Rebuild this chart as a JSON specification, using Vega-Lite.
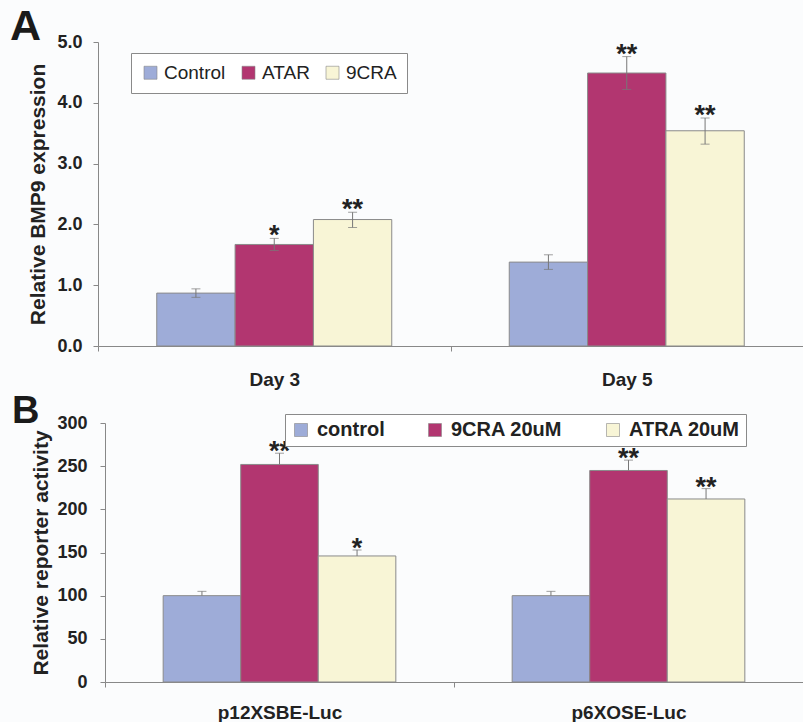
{
  "$schema": "https://vega.github.io/schema/vega-lite/v6.json",
  "background": "#fbfcfd",
  "padding": {"left": 10, "top": 6, "right": 0, "bottom": 0},
  "config": {
    "view": {"stroke": null},
    "font": "Liberation Sans",
    "axis": {"domainColor": "#888888", "tickColor": "#888888", "labelColor": "#222222", "titleColor": "#222222", "grid": false, "labelFont": "Liberation Sans", "titleFont": "Liberation Sans"},
    "legend": {"labelFont": "Liberation Sans", "labelColor": "#222222"},
    "title": {"font": "Liberation Sans", "color": "#1a1a1a"}
  },
  "spacing": 3,
  "datasets": {
    "a": [
      {"day": "Day 3", "grp": "Control", "val": 0.87, "lo": 0.80, "hi": 0.94, "sig": ""},
      {"day": "Day 3", "grp": "ATAR", "val": 1.67, "lo": 1.57, "hi": 1.77, "sig": "*"},
      {"day": "Day 3", "grp": "9CRA", "val": 2.08, "lo": 1.95, "hi": 2.20, "sig": "**"},
      {"day": "Day 5", "grp": "Control", "val": 1.38, "lo": 1.26, "hi": 1.50, "sig": ""},
      {"day": "Day 5", "grp": "ATAR", "val": 4.49, "lo": 4.22, "hi": 4.76, "sig": "**"},
      {"day": "Day 5", "grp": "9CRA", "val": 3.54, "lo": 3.32, "hi": 3.75, "sig": "**"}
    ],
    "b": [
      {"rep": "p12XSBE-Luc", "grp": "control", "val": 100, "hi": 105, "sig": ""},
      {"rep": "p12XSBE-Luc", "grp": "9CRA 20uM", "val": 252, "hi": 265, "sig": "**"},
      {"rep": "p12XSBE-Luc", "grp": "ATRA 20uM", "val": 146, "hi": 153, "sig": "*"},
      {"rep": "p6XOSE-Luc", "grp": "control", "val": 100, "hi": 105, "sig": ""},
      {"rep": "p6XOSE-Luc", "grp": "9CRA 20uM", "val": 245, "hi": 257, "sig": "**"},
      {"rep": "p6XOSE-Luc", "grp": "ATRA 20uM", "val": 212, "hi": 224, "sig": "**"}
    ]
  },
  "resolve": {
    "scale": {"color": "independent", "xOffset": "independent", "x": "independent", "y": "independent"},
    "legend": {"color": "independent"}
  },
  "vconcat": [
    {
      "width": 705,
      "height": 304,
      "title": {"text": "A", "anchor": "start", "frame": "group", "fontSize": 43, "fontWeight": "bold", "dx": -88, "dy": 50, "offset": 0, "baseline": "alphabetic"},
      "data": {"name": "a"},
      "encoding": {
        "x": {"field": "day", "type": "nominal", "scale": {"paddingInner": 0, "paddingOuter": 0},
              "axis": {"title": null, "labelAngle": 0, "labelFontSize": 19, "labelFontWeight": "bold", "labelPadding": 19, "tickBand": "extent", "tickSize": 5}},
        "xOffset": {"field": "grp", "type": "nominal", "sort": ["Control", "ATAR", "9CRA"], "scale": {"paddingOuter": 0.75, "paddingInner": 0}}
      },
      "layer": [
        {
          "mark": {"type": "bar", "stroke": "#8a8a8a", "strokeWidth": 1},
          "encoding": {
            "y": {"field": "val", "type": "quantitative", "scale": {"domain": [0, 5], "nice": false},
                  "axis": {"title": "Relative BMP9 expression", "titleFontSize": 21, "titleFontWeight": "bold", "titlePadding": 8, "labelFontSize": 18, "labelFontWeight": "bold", "values": [0, 1, 2, 3, 4, 5], "format": ".1f", "tickSize": 5, "labelPadding": 11}},
            "color": {"field": "grp", "type": "nominal", "sort": ["Control", "ATAR", "9CRA"],
                      "scale": {"domain": ["Control", "ATAR", "9CRA"], "range": ["#9eacd8", "#b23670", "#f8f5d6"]},
                      "legend": {"orient": "none", "legendX": 33, "legendY": 11, "direction": "horizontal", "columns": 3, "title": null, "labelFontSize": 19, "symbolType": "square", "symbolSize": 169, "symbolStrokeColor": "#888888", "symbolStrokeWidth": 0.6, "strokeColor": "#8a8a8a", "fillColor": "#ffffff", "padding": 10, "columnPadding": 13, "labelOffset": 4}}
          }
        },
        {
          "mark": {"type": "rule", "color": "#777777", "strokeWidth": 1},
          "encoding": {"y": {"field": "lo", "type": "quantitative", "title": "Relative BMP9 expression"}, "y2": {"field": "hi"}}
        },
        {
          "mark": {"type": "tick", "color": "#777777", "size": 9, "thickness": 1, "orient": "horizontal"},
          "encoding": {"y": {"field": "hi", "type": "quantitative", "title": "Relative BMP9 expression"}}
        },
        {
          "mark": {"type": "tick", "color": "#777777", "size": 9, "thickness": 1, "orient": "horizontal"},
          "encoding": {"y": {"field": "lo", "type": "quantitative", "title": "Relative BMP9 expression"}}
        },
        {
          "mark": {"type": "text", "fontSize": 27, "fontWeight": "bold", "baseline": "alphabetic", "dy": 6, "color": "#222222"},
          "encoding": {"y": {"field": "hi", "type": "quantitative", "title": "Relative BMP9 expression"}, "text": {"field": "sig"}}
        }
      ]
    },
    {
      "width": 705,
      "height": 259,
      "title": {"text": "B", "anchor": "start", "frame": "group", "fontSize": 38, "fontWeight": "bold", "dx": -86, "dy": 47, "offset": 0, "baseline": "alphabetic"},
      "data": {"name": "b"},
      "encoding": {
        "x": {"field": "rep", "type": "nominal", "scale": {"paddingInner": 0, "paddingOuter": 0, "range": [7, 705]},
              "axis": {"title": null, "labelAngle": 0, "labelFontSize": 19, "labelFontWeight": "bold", "labelPadding": 16, "tickBand": "extent", "tickSize": 5}},
        "xOffset": {"field": "grp", "type": "nominal", "sort": ["control", "9CRA 20uM", "ATRA 20uM"], "scale": {"paddingOuter": 0.75, "paddingInner": 0}}
      },
      "layer": [
        {
          "mark": {"type": "bar", "stroke": "#8a8a8a", "strokeWidth": 1},
          "encoding": {
            "y": {"field": "val", "type": "quantitative", "scale": {"domain": [0, 300], "nice": false},
                  "axis": {"title": "Relative reporter activity", "titleFontSize": 21, "titleFontWeight": "bold", "titlePadding": 5, "labelFontSize": 18, "labelFontWeight": "bold", "values": [0, 50, 100, 150, 200, 250, 300], "tickSize": 5, "labelPadding": 13, "offset": -7}},
            "color": {"field": "grp", "type": "nominal", "sort": ["control", "9CRA 20uM", "ATRA 20uM"],
                      "scale": {"domain": ["control", "9CRA 20uM", "ATRA 20uM"], "range": ["#9eacd8", "#b23670", "#f8f5d6"]},
                      "legend": {"orient": "none", "legendX": 187, "legendY": -9, "direction": "horizontal", "columns": 3, "title": null, "labelFontSize": 20, "labelFontWeight": "bold", "symbolType": "square", "symbolSize": 169, "symbolStrokeColor": "#888888", "symbolStrokeWidth": 0.6, "strokeColor": "#8a8a8a", "fillColor": "#ffffff", "padding": 6, "columnPadding": 40, "labelOffset": 6}}
          }
        },
        {
          "mark": {"type": "rule", "color": "#777777", "strokeWidth": 1},
          "encoding": {"y": {"field": "val", "type": "quantitative", "title": "Relative reporter activity"}, "y2": {"field": "hi"}}
        },
        {
          "mark": {"type": "tick", "color": "#777777", "size": 9, "thickness": 1, "orient": "horizontal"},
          "encoding": {"y": {"field": "hi", "type": "quantitative", "title": "Relative reporter activity"}}
        },
        {
          "mark": {"type": "text", "fontSize": 27, "fontWeight": "bold", "baseline": "alphabetic", "dy": 7, "color": "#222222"},
          "encoding": {"y": {"field": "hi", "type": "quantitative", "title": "Relative reporter activity"}, "text": {"field": "sig"}}
        }
      ]
    }
  ]
}
